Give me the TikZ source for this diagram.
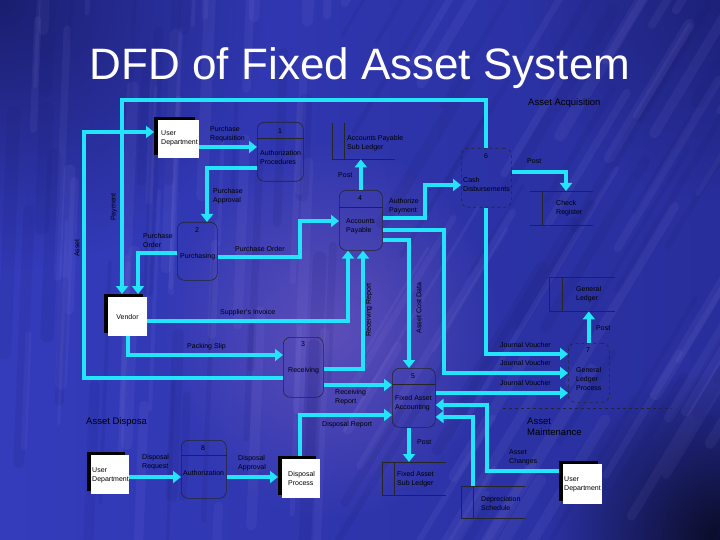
\documentclass[tikz,border=0pt]{standalone}
\usepackage{fontspec}
\setmainfont{Liberation Sans}
\usetikzlibrary{arrows.meta,fadings}
\tikzfading[name=softout, inner color=transparent!0, outer color=transparent!100]
\definecolor{flowc}{RGB}{35,228,250}
\definecolor{bgL}{RGB}{52,60,188}
\definecolor{bgM}{RGB}{118,96,210}
\definecolor{bgR}{RGB}{40,46,155}
\definecolor{bgTop}{RGB}{18,20,85}
\definecolor{bgPink}{RGB}{150,110,200}
\definecolor{streakL}{RGB}{175,165,245}
\definecolor{streakD}{RGB}{25,28,110}
\begin{document}
\begin{tikzpicture}[x=1pt,y=-1pt,
  flow/.style={draw=flowc, line width=4pt, -{Triangle[length=8pt,width=12pt]}},
  lbl/.style={font=\fontsize{7}{9}\selectfont, inner sep=0pt, align=left, anchor=west, text=black},
  sect/.style={font=\fontsize{9.5}{10.5}\selectfont, inner sep=0pt, align=left, anchor=west, text=black},
  proc/.style={draw=black!85, line width=0.6pt, rounded corners=7pt, anchor=north west, inner sep=0pt},
  dproc/.style={proc, dashed},
  ext/.style={fill=white, anchor=north west, inner sep=0pt},
  store/.style={anchor=north west, inner sep=0pt},
  sline/.style={draw=black!85, line width=0.7pt},
  num/.style={font=\fontsize{7}{8}\selectfont, inner sep=0pt, anchor=center, text=black}]
\useasboundingbox (0,0) rectangle (720,540);
% ---------- background ----------
\begin{scope}
\clip (0,0) rectangle (720,540);
\shade[left color=bgL, middle color=bgM, right color=bgR] (0,0) rectangle (720,540);
\fill[bgPink, path fading=softout, opacity=0.45] (330,330) ellipse (170 and 190);
\fill[bgTop, path fading=softout, opacity=0.75] (0,0) circle (270);
\fill[bgTop, path fading=softout, opacity=0.5] (720,0) circle (200);
\fill[black, path fading=softout, opacity=0.75] (720,540) circle (170);
\pgfmathsetseed{4242}
\foreach \i in {1,...,80}{
  \pgfmathsetmacro{\sx}{rnd*720}
  \pgfmathsetmacro{\sy}{rnd*640}
  \pgfmathsetmacro{\sl}{80+rnd*180}
  \pgfmathsetmacro{\sw}{3+rnd*9}
  \pgfmathsetmacro{\sdx}{(\sx>330)*0.6*\sl+(\sx<=330)*0.04*\sl}
  \draw[draw=streakL, opacity=0.07, line width=\sw pt, line cap=round] (\sx,\sy) -- ++(\sdx,-\sl);
}
\foreach \i in {1,...,60}{
  \pgfmathsetmacro{\sx}{rnd*720}
  \pgfmathsetmacro{\sy}{rnd*640}
  \pgfmathsetmacro{\sl}{80+rnd*180}
  \pgfmathsetmacro{\sw}{3+rnd*12}
  \pgfmathsetmacro{\sdx}{(\sx>330)*0.6*\sl+(\sx<=330)*0.04*\sl}
  \draw[draw=streakD, opacity=0.12, line width=\sw pt, line cap=round] (\sx,\sy) -- ++(\sdx,-\sl);
}
\end{scope}
% ---------- title ----------
\node[font=\fontsize{44}{50}\selectfont, text=white, anchor=base, inner sep=0pt] (title) at (360,80) {DFD of Fixed Asset System};
% ---------- processes ----------
\node[proc, minimum width=46pt, minimum height=59pt] (p1) at (257,122) {};
\draw[sline] (p1.west |- 0,138) -- (p1.east |- 0,138);
\node[proc, minimum width=40pt, minimum height=58pt] (p2) at (177,222) {};
\node[proc, minimum width=40pt, minimum height=60pt] (p3) at (283,337) {};
\node[proc, minimum width=43pt, minimum height=60pt] (p4) at (339,190) {};
\draw[sline] (p4.west |- 0,207) -- (p4.east |- 0,207);
\node[proc, minimum width=43pt, minimum height=59pt] (p5) at (392,368) {};
\draw[sline] (p5.west |- 0,384) -- (p5.east |- 0,384);
\node[dproc, minimum width=50pt, minimum height=59pt] (p6) at (461,148) {};
\node[dproc, minimum width=41pt, minimum height=59pt] (p7) at (568,343) {};
\node[proc, minimum width=45pt, minimum height=58pt] (p8) at (181,440) {};
\draw[sline] (p8.west |- 0,455) -- (p8.east |- 0,455);
% ---------- external entities ----------
\fill[black] (154,117) rectangle (195,155);
\node[ext, minimum width=41pt, minimum height=38pt] (ud1) at (158,120) {};
\fill[black] (104,294) rectangle (143,333);
\node[ext, minimum width=39pt, minimum height=39pt] (vendor) at (108,297) {};
\fill[black] (87,452) rectangle (125,491);
\node[ext, minimum width=38pt, minimum height=39pt] (ud2) at (91,455) {};
\fill[black] (278,456) rectangle (316,495);
\node[ext, minimum width=38pt, minimum height=39pt] (dp) at (282,459) {};
\fill[black] (559,461) rectangle (598,501);
\node[ext, minimum width=39pt, minimum height=40pt] (ud3) at (563,464) {};
\coordinate (ud1S) at ([shift={(-4pt,3pt)}]ud1.north west);
\coordinate (vendorS) at ([shift={(-4pt,3pt)}]vendor.north west);
\coordinate (dpS) at ([shift={(-4pt,3pt)}]dp.north west);
\coordinate (ud3S) at ([shift={(-4pt,3pt)}]ud3.north west);
% ---------- data stores ----------
\node[store, minimum width=63pt, minimum height=36pt] (apsl) at (332,123) {};
\draw[sline] (apsl.north west) -- (apsl.south west) -- (apsl.south east);
\draw[sline] (344,0 |- apsl.north) -- (344,0 |- apsl.south);
\node[store, minimum width=63pt, minimum height=34pt] (cr) at (530,191) {};
\draw[sline] (cr.north west) -- (cr.north east);
\draw[sline] (cr.south west) -- (cr.south east);
\draw[sline] (542,0 |- cr.north) -- (542,0 |- cr.south);
\node[store, minimum width=66pt, minimum height=34pt] (gl) at (549,277) {};
\draw[sline] (gl.north east) -- (gl.north west) -- (gl.south west) -- (gl.south east);
\draw[sline] (562,0 |- gl.north) -- (562,0 |- gl.south);
\node[store, minimum width=64pt, minimum height=33pt] (fasl) at (382,462) {};
\draw[sline] (fasl.north east) -- (fasl.north west) -- (fasl.south west) -- (fasl.south east);
\draw[sline] (394,0 |- fasl.north) -- (394,0 |- fasl.south);
\node[store, minimum width=64pt, minimum height=32pt] (ds) at (461,486) {};
\draw[sline] (ds.north east) -- (ds.north west) -- (ds.south west) -- (ds.south east);
\draw[sline] (473,0 |- ds.north) -- (473,0 |- ds.south);
% separator
\draw[black!85, line width=0.6pt, dashed] (503,408) -- (672,408);
% ---------- flows ----------
\draw[flow] (ud1.east |- 0,147) -- (p1.west |- 0,147);
\draw[flow] (p1.west |- 0,168) -| (207,0 |- p2.north);
\draw[flow] (p2.west |- 0,253) -| (138,0 |- vendorS);
\draw[flow] (p6.north) |- (122,100) -- (122,0 |- vendorS);
\draw[flow] (p3.west |- 0,378) -| (84,132) -- (ud1S |- 0,132);
\draw[flow] (p2.east |- 0,257) -| (300,221) -- (p4.west |- 0,221);
\draw[flow] (p4.north) -- (p4.north |- apsl.south);
\draw[flow] (p4.east |- 0,218) -| (425,185) -- (p6.west |- 0,185);
\draw[flow] (p6.east |- 0,172) -| (566,0 |- cr.north);
\draw[flow] (p4.east |- 0,240) -| (409,0 |- p5.north);
\draw[flow] (p4.east |- 0,230) -| (444,373) -- (p7.west |- 0,373);
\draw[flow] (p6.south) |- (p7.west |- 0,354);
\draw[flow] (p5.east |- 0,393) -- (p7.west |- 0,393);
\draw[flow] (p7.north) -- (p7.north |- gl.south);
\draw[flow] (vendor.east |- 0,321) -| (348,0 |- p4.south);
\draw[flow] (128,0 |- vendor.south) |- (p3.west |- 0,355);
\draw[flow] (p3.east |- 0,369) -| (363,0 |- p4.south);
\draw[flow] (p3.east |- 0,385) -- (p5.west |- 0,385);
\draw[flow] (300,0 |- dpS) |- (p5.west |- 0,415);
\draw[flow] (409,0 |- p5.south) -- (409,0 |- fasl.north);
\draw[flow] (ud3S |- 0,471) -| (487,405) -- (p5.east |- 0,405);
\draw[flow] (473,0 |- ds.north) |- (p5.east |- 0,417);
\draw[flow] (ud2.east |- 0,477) -- (p8.west |- 0,477);
\draw[flow] (p8.east |- 0,477) -- (dpS |- 0,477);
% ---------- texts ----------
\node[lbl] (t-ud1) at (161,138.5) {User\\Department};
\node[lbl, anchor=center] (t-vendor) at (127.5,316.5) {Vendor};
\node[lbl] (t-ud2) at (92,475) {User\\Department};
\node[lbl] (t-dp) at (288,478) {Disposal\\Process};
\node[lbl] (t-ud3) at (564,484) {User\\Department};
\node[num] (n1) at (280,131) {1};
\node[lbl] (t-p1) at (260,157.5) {Authorization\\Procedures};
\node[num] (n2) at (197,230) {2};
\node[lbl] (t-p2) at (180,257) {Purchasing};
\node[num] (n3) at (303,344) {3};
\node[lbl] (t-p3) at (288,371) {Receiving};
\node[num] (n4) at (360,198) {4};
\node[lbl] (t-p4) at (346,226.5) {Accounts\\Payable};
\node[num] (n5) at (413,376) {5};
\node[lbl] (t-p5) at (395,403.5) {Fixed Asset\\Accounting};
\node[num] (n6) at (486,156) {6};
\node[lbl] (t-p6) at (463,184.5) {Cash\\Disbursements};
\node[num] (n7) at (588,350) {7};
\node[lbl] (t-p7) at (576,379) {General\\Ledger\\Process};
\node[num] (n8) at (203,448) {8};
\node[lbl] (t-p8) at (183,473) {Authorization};
\node[lbl] (t-apsl) at (347,143.5) {Accounts Payable\\Sub Ledger};
\node[lbl] (t-cr) at (556,208.5) {Check\\Register};
\node[lbl] (t-gl) at (576,294.5) {General\\Ledger};
\node[lbl] (t-fasl) at (397,479.5) {Fixed Asset\\Sub Ledger};
\node[lbl] (t-ds) at (481,503.5) {Depreciation\\Schedule};
\node[lbl] (f1) at (210,134) {Purchase\\Requisition};
\node[lbl] (f2) at (213,196) {Purchase\\Approval};
\node[lbl, rotate=90, anchor=center] (f3) at (114,207) {Payment};
\node[lbl, rotate=90, anchor=center] (f4) at (77,248) {Asset};
\node[lbl] (f5) at (143,240) {Purchase\\Order};
\node[lbl] (f6) at (235,249) {Purchase Order};
\node[lbl] (f7) at (338,175) {Post};
\node[lbl] (f8) at (389,206.5) {Authorize\\Payment};
\node[lbl] (f9) at (527,161) {Post};
\node[lbl] (f10) at (596,328) {Post};
\node[lbl] (f11) at (500,345) {Journal Voucher};
\node[lbl] (f12) at (500,363) {Journal Voucher};
\node[lbl] (f13) at (500,383) {Journal Voucher};
\node[lbl] (f14) at (220,313) {Supplier's Invoice};
\node[lbl] (f15) at (187,347) {Packing Slip};
\node[lbl, rotate=90, anchor=center] (f16) at (369,310) {Receiving Report};
\node[lbl, rotate=90, anchor=center] (f17) at (419,308) {Asset Cost Data};
\node[lbl] (f18) at (335,397.5) {Receiving\\Report};
\node[lbl] (f19) at (322,425) {Disposal Report};
\node[lbl] (f20) at (417,442) {Post};
\node[lbl] (f21) at (509,457.5) {Asset\\Changes};
\node[lbl] (f22) at (142,462.5) {Disposal\\Request};
\node[lbl] (f23) at (238,463) {Disposal\\Approval};
\node[sect] (s1) at (528,103) {Asset Acquisition};
\node[sect] (s2) at (527,427) {Asset\\Maintenance};
\node[sect] (s3) at (86,422) {Asset Disposa};
\end{tikzpicture}
\end{document}
